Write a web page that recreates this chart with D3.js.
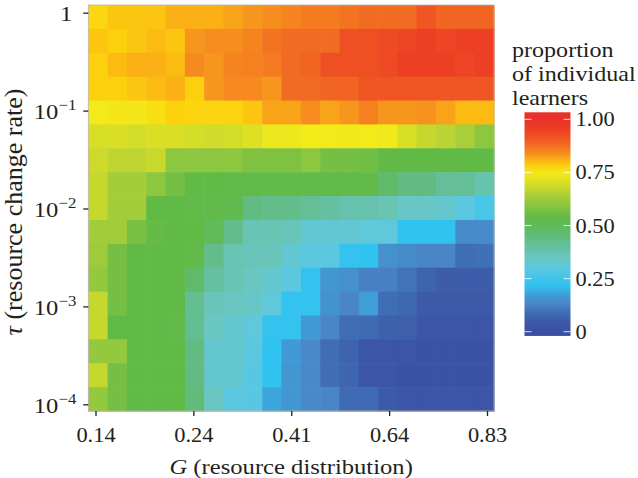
<!DOCTYPE html>
<html><head><meta charset="utf-8">
<script src="https://cdn.jsdelivr.net/npm/d3@7"></script>
<style>
body{margin:0;background:#fff;}
svg{display:block;}
text{font-family:"Liberation Serif","Times New Roman",serif;fill:#231f20;}
</style></head><body>
<svg id="chart" width="638" height="478"></svg>
<script>
// ---------- data ----------
const gTickIndex  = [0, 5, 10, 15, 20];
const gTickLabels = ["0.14", "0.24", "0.41", "0.64", "0.83"];
const tauTicks    = [1, 1e-1, 1e-2, 1e-3, 1e-4];
const tauTickExp  = [null, "\u22121", "\u22122", "\u22123", "\u22124"];
// log10(tau) of each row, top to bottom
const tauLog = [0, -0.25, -0.5, -0.75, -1, -1.25, -1.5, -1.75, -2, -2.25, -2.5, -2.75, -3, -3.25, -3.5, -3.75, -4];
// proportion of individual learners; rows = tauLog, columns = G index 0..20
const proportion = [
  [0.77,0.79,0.79,0.79,0.81,0.81,0.81,0.82,0.83,0.84,0.85,0.86,0.86,0.87,0.88,0.88,0.88,0.91,0.89,0.89,0.89],
  [0.79,0.78,0.79,0.80,0.79,0.83,0.84,0.84,0.85,0.87,0.88,0.88,0.88,0.92,0.92,0.93,0.94,0.95,0.94,0.95,0.95],
  [0.78,0.80,0.81,0.81,0.80,0.845,0.83,0.85,0.855,0.86,0.88,0.89,0.92,0.92,0.92,0.93,0.95,0.95,0.95,0.94,0.95],
  [0.78,0.78,0.79,0.80,0.81,0.78,0.83,0.845,0.845,0.83,0.88,0.88,0.89,0.89,0.91,0.91,0.91,0.91,0.91,0.91,0.91],
  [0.745,0.75,0.75,0.76,0.78,0.775,0.775,0.775,0.79,0.82,0.82,0.84,0.82,0.83,0.855,0.83,0.83,0.835,0.82,0.80,0.80],
  [0.70,0.705,0.695,0.705,0.705,0.695,0.69,0.695,0.71,0.735,0.735,0.745,0.745,0.74,0.745,0.74,0.70,0.675,0.66,0.64,0.60],
  [0.685,0.665,0.665,0.68,0.60,0.60,0.60,0.60,0.58,0.58,0.58,0.60,0.565,0.565,0.56,0.54,0.54,0.54,0.54,0.54,0.54],
  [0.675,0.635,0.635,0.60,0.565,0.54,0.54,0.53,0.53,0.53,0.53,0.53,0.53,0.53,0.53,0.47,0.44,0.44,0.41,0.41,0.38],
  [0.675,0.635,0.635,0.54,0.54,0.53,0.53,0.52,0.44,0.43,0.43,0.41,0.40,0.38,0.38,0.37,0.34,0.34,0.33,0.30,0.26],
  [0.63,0.63,0.57,0.545,0.54,0.54,0.50,0.43,0.37,0.37,0.36,0.32,0.32,0.32,0.31,0.31,0.22,0.22,0.22,0.14,0.14],
  [0.625,0.565,0.54,0.54,0.54,0.53,0.43,0.37,0.36,0.36,0.32,0.30,0.30,0.225,0.22,0.15,0.14,0.13,0.13,0.09,0.095],
  [0.61,0.565,0.54,0.54,0.54,0.47,0.40,0.37,0.35,0.33,0.30,0.225,0.16,0.15,0.12,0.12,0.10,0.07,0.055,0.055,0.055],
  [0.675,0.565,0.54,0.54,0.54,0.42,0.36,0.35,0.34,0.31,0.225,0.225,0.155,0.13,0.17,0.09,0.08,0.05,0.05,0.05,0.05],
  [0.675,0.54,0.54,0.54,0.53,0.42,0.35,0.33,0.31,0.225,0.225,0.165,0.13,0.09,0.085,0.065,0.06,0.03,0.03,0.03,0.03],
  [0.61,0.61,0.54,0.54,0.54,0.44,0.33,0.33,0.30,0.22,0.165,0.135,0.09,0.07,0.03,0.03,0.03,0.02,0.02,0.02,0.02],
  [0.675,0.565,0.54,0.54,0.54,0.44,0.33,0.33,0.29,0.22,0.16,0.135,0.09,0.075,0.03,0.03,0.02,0.02,0.02,0.02,0.02],
  [0.61,0.565,0.54,0.54,0.54,0.45,0.35,0.30,0.29,0.18,0.16,0.135,0.13,0.085,0.085,0.05,0.03,0.03,0.03,0.03,0.03]
];
const legendTicks  = [0, 0.25, 0.5, 0.75, 1];
const legendLabels = ["0", "0.25", "0.50", "0.75", "1.00"];
const colourStops  = [0, 0.03, 0.05, 0.09, 0.13, 0.16, 0.22, 0.30, 0.35, 0.40, 0.44, 0.47, 0.54, 0.565, 0.60, 0.635, 0.675, 0.70, 0.745, 0.78, 0.81, 0.83, 0.86, 0.88, 0.91, 0.95, 1.0];
const colourHex    = ["#3a50a2","#3d55a6","#3d5aa8","#3f6db6","#4a86c7","#4296d2","#31c3f0","#5cc8e0","#6ac6c0","#64c0a0","#62bc82","#5fbb6a","#62ba46","#74bf44","#8dc63f","#a4cd3a","#c6d82e","#d7de26","#f3ea1a","#fdd00d","#fbb016","#f7961d","#f47b20","#f26b22","#ef5623","#ed3f24","#e8312a"];
const legendTitle  = ["proportion", "of individual", "learners"];

// ---------- layout ----------
const svg = d3.select("#chart");
const P = {left: 88.3, right: 494, top: 5, bottom: 411};
const SX = 1.12; // horizontal text stretch of the reference

const colour = d3.scaleLinear().domain(colourStops).range(colourHex).clamp(true);

const xBand = d3.scaleBand().domain(d3.range(proportion[0].length)).range([P.left, P.right]).padding(0);
const yBand = d3.scaleBand().domain(tauLog).range([P.top, P.bottom]).padding(0);
const xTick = d3.scaleLinear().domain([0, 20]).range([95.5, 487]);
const yTick = d3.scaleLog().domain([1e-4, 1]).range([404.3, 12.7]);

// tiles
const cells = [];
proportion.forEach((row, r) => row.forEach((v, c) => cells.push({r: tauLog[r], c, v})));
svg.append("g").selectAll("rect").data(cells).join("rect")
  .attr("x", d => xBand(d.c)).attr("y", d => yBand(d.r))
  .attr("width", xBand.bandwidth() + 0.6).attr("height", yBand.bandwidth() + 0.6)
  .attr("fill", d => colour(d.v));
svg.append("rect").attr("x", P.left).attr("y", P.top)
  .attr("width", P.right - P.left).attr("height", P.bottom - P.top)
  .attr("fill", "none").attr("stroke", "#b9b4a8").attr("stroke-width", 0.8);

// x axis
const xAxis = svg.append("g").attr("transform", `translate(0,${P.bottom})`)
  .call(d3.axisBottom(xTick).tickValues(gTickIndex).tickSize(5).tickPadding(4)
        .tickFormat((d, i) => gTickLabels[i]));
xAxis.select(".domain").remove();
xAxis.selectAll(".tick line").attr("stroke", "#231f20").attr("stroke-width", 1.3);
xAxis.selectAll(".tick text").attr("font-size", 20).attr("fill", "#231f20")
  .attr("y", 0).attr("dy", 0)
  .attr("transform", `translate(0,31) scale(${SX},1)`);

// y axis
const yAxis = svg.append("g").attr("transform", `translate(${P.left},0)`)
  .call(d3.axisLeft(yTick).tickValues(tauTicks).tickSize(5).tickFormat(""));
yAxis.select(".domain").remove();
yAxis.selectAll(".tick line").attr("stroke", "#231f20").attr("stroke-width", 1.3);
yAxis.selectAll(".tick").each(function(d, i) {
  const t = d3.select(this).append("text")
    .attr("text-anchor", "end").attr("font-size", 22).attr("fill", "#231f20")
    .attr("transform", `translate(-12,8) scale(${SX},1)`);
  if (tauTickExp[i] === null) {
    t.attr("transform", `translate(-16,8) scale(${SX},1)`).text("1");
  } else {
    t.append("tspan").text("10");
    t.append("tspan").attr("font-size", 15).attr("dy", -9).text(tauTickExp[i]);
  }
});

// axis titles
const xt = svg.append("text").attr("text-anchor", "middle").attr("font-size", 22)
  .attr("transform", `translate(${(P.left + P.right) / 2},474) scale(${SX},1)`);
xt.append("tspan").attr("font-style", "italic").text("G");
xt.append("tspan").text(" (resource distribution)");

const yt = svg.append("text").attr("text-anchor", "middle").attr("font-size", 26)
  .attr("transform", `translate(22,${(P.top + P.bottom) / 2 + 4}) rotate(-90)`);
yt.append("tspan").attr("font-style", "italic").text("\u03c4");
yt.append("tspan").text(" (resource change rate)");

// legend
const L = {x: 524.5, w: 46};
const lScale = d3.scaleLinear().domain([0, 1]).range([331.7, 119.3]);
const lo = -0.02, hi = 1.033;
const grad = svg.append("defs").append("linearGradient").attr("id", "lg")
  .attr("x1", 0).attr("x2", 0).attr("y1", 1).attr("y2", 0);
d3.range(0, 1.0001, 0.01).forEach(t => {
  grad.append("stop").attr("offset", t).attr("stop-color", colour(lo + t * (hi - lo)));
});
svg.append("rect").attr("x", L.x).attr("y", lScale(hi)).attr("width", L.w)
  .attr("height", lScale(lo) - lScale(hi)).attr("fill", "url(#lg)");
const lg = svg.append("g");
legendTicks.forEach((v, i) => {
  const y = lScale(v);
  lg.append("line").attr("x1", L.x).attr("x2", L.x + 7).attr("y1", y).attr("y2", y)
    .attr("stroke", "#fff").attr("stroke-opacity", 0.8).attr("stroke-width", 1);
  lg.append("line").attr("x1", L.x + L.w - 7).attr("x2", L.x + L.w).attr("y1", y).attr("y2", y)
    .attr("stroke", "#fff").attr("stroke-opacity", 0.8).attr("stroke-width", 1);
  lg.append("text").attr("font-size", 20)
    .attr("transform", `translate(${L.x + L.w + 5},${y + 7}) scale(${SX},1)`)
    .text(legendLabels[i]);
});
legendTitle.forEach((s, i) => {
  svg.append("text").attr("font-size", 21.5)
    .attr("transform", `translate(512,${57 + i * 24}) scale(${SX},1)`).text(s);
});
</script>
</body></html>
